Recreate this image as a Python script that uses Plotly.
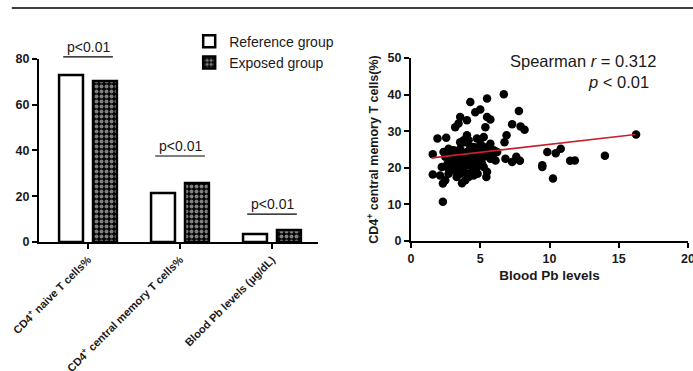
import plotly.graph_objects as go

# ---------------- data ----------------
categories = ["CD4<sup>+</sup> naive T cells%",
              "CD4<sup>+</sup> central memory T cells%",
              "Blood Pb levels (μg/dL)"]
reference_vals = [73.0, 21.4, 3.5]
exposed_vals = [70.4, 25.8, 5.2]
sig_labels = ["p<0.01", "p<0.01", "p<0.01"]
sig_line_y = [80.9, 37.6, 12.2]

pb_x = [2.30, 1.57, 1.57, 1.91, 2.54, 2.10, 2.30, 2.47, 2.35, 2.59, 2.83, 2.64,
        3.19, 3.43, 3.55, 4.04, 4.28, 4.64, 5.00, 5.49, 5.49, 5.73, 5.37, 5.25,
        4.76, 4.04, 3.80, 3.55, 5.73, 6.70, 6.90, 6.75, 7.79, 7.30, 7.91, 8.20,
        6.82, 7.30, 7.60, 7.86, 6.10, 5.97, 5.49, 5.44, 4.81, 4.04, 3.68, 3.30,
        3.07, 9.48, 9.84, 10.45, 10.81, 10.25, 11.49, 11.83, 14.00, 16.25, 9.48,
        2.71, 3.07, 3.31, 3.55, 3.80, 4.04, 4.28, 4.40, 4.64, 4.89, 5.13, 5.25,
        5.49, 5.73, 5.97, 6.22, 2.83, 3.19, 3.43, 3.68, 3.92, 4.16, 4.40, 4.64,
        4.76, 5.13, 2.95, 3.31, 3.80, 4.16, 4.40, 3.92, 3.55, 3.07, 4.76, 4.28,
        3.92, 4.16, 4.52, 5.01, 5.25, 5.61, 2.47, 2.71, 2.22, 2.59, 4.76, 5.25,
        4.52, 3.43, 3.68, 4.04]
cd4_cm = [10.7, 23.7, 18.2, 28.0, 28.2, 17.9, 15.7, 16.6, 24.3, 23.9, 22.0, 21.1,
          31.1, 32.1, 33.9, 33.0, 38.0, 35.2, 35.9, 38.9, 33.9, 33.2, 31.1, 28.4,
          28.0, 28.9, 27.5, 27.0, 26.6, 40.1, 28.9, 27.0, 35.5, 31.9, 31.3, 30.4,
          22.5, 21.6, 23.0, 21.9, 22.0, 23.9, 18.9, 17.5, 18.4, 18.4, 15.8, 17.5,
          19.3, 20.2, 24.3, 24.0, 25.2, 17.1, 21.9, 22.0, 23.3, 29.1, 20.7,
          25.2, 24.8, 23.9, 25.2, 23.4, 24.3, 25.7, 23.0, 24.8, 25.2, 24.3, 23.0,
          23.9, 22.5, 24.8, 24.3, 23.0, 22.0, 21.1, 22.0, 20.7, 21.6, 20.2, 21.1,
          22.0, 21.1, 20.2, 19.8, 19.3, 17.5, 18.9, 16.6, 18.4, 21.1, 23.0, 24.3,
          27.0, 27.5, 25.7, 26.6, 25.7, 25.2, 23.0, 18.4, 20.2, 20.2, 20.2, 20.2,
          17.9, 23.4, 20.2, 23.0]
fit_x = [1.5, 16.2]
fit_y = [22.7, 29.1]

FONT = "Liberation Sans, Arial, sans-serif"
TXT = "#1a1a1a"

fig = go.Figure()

fig.add_trace(go.Bar(
    x=categories, y=reference_vals, name="Reference group",
    width=0.26, offset=-0.315,
    marker=dict(color="white", line=dict(color="black", width=2.5)),
    xaxis="x", yaxis="y"))
fig.add_trace(go.Bar(
    x=categories, y=exposed_vals, name="Exposed group",
    width=0.26, offset=0.054,
    marker=dict(color="black", line=dict(color="black", width=2.5),
                pattern=dict(shape=".", fgcolor="white", bgcolor="black",
                             size=5, solidity=0.5)),
    xaxis="x", yaxis="y"))

fig.add_trace(go.Scatter(
    x=pb_x, y=cd4_cm, mode="markers", showlegend=False,
    marker=dict(color="black", size=8.5),
    xaxis="x2", yaxis="y2"))
fig.add_trace(go.Scatter(
    x=fit_x, y=fit_y, mode="lines", showlegend=False,
    line=dict(color="#c8202a", width=1.6),
    xaxis="x2", yaxis="y2"))

axis_common = dict(showline=True, linecolor="black", linewidth=2,
                   ticks="outside", ticklen=5, tickwidth=2, tickcolor="black",
                   showgrid=False, zeroline=False, automargin=False,
                   ticklabeloverflow="allow")

YMAX = 80
fig.update_layout(
    width=693, height=371,
    margin=dict(l=0, r=0, t=0, b=0, autoexpand=False),
    paper_bgcolor="white", plot_bgcolor="white",
    font=dict(family=FONT, color=TXT),
    barmode="overlay",
    xaxis=dict(domain=[0.0563, 0.4589], range=[-0.533, 2.5],
               tickangle=-45, tickfont=dict(size=11, weight="bold", color=TXT),
               **axis_common),
    yaxis=dict(domain=[0.3477, 0.841], range=[0, YMAX],
               tickvals=[0, 20, 40, 60, 80],
               tickfont=dict(size=12.5, weight="bold", color=TXT),
               **axis_common),
    xaxis2=dict(domain=[0.5931, 0.9928], range=[0, 20],
                tickvals=[0, 5, 10, 15, 20], anchor="y2",
                tickfont=dict(size=12.5, weight="bold", color=TXT),
                title=dict(text="Blood Pb levels", standoff=6,
                           font=dict(size=13.5, weight="bold", color=TXT)),
                **axis_common),
    yaxis2=dict(domain=[0.3504, 0.8437], range=[0, 50], anchor="x2",
                tickvals=[0, 10, 20, 30, 40, 50],
                tickfont=dict(size=12.5, weight="bold", color=TXT),
                title=dict(text="CD4<sup>+</sup> central memory T cells(%)",
                           standoff=6,
                           font=dict(size=12.5, weight="bold", color=TXT)),
                **axis_common),
    legend=dict(x=0.273, y=0.931, xanchor="left", yanchor="top",
                font=dict(size=14, color=TXT), bgcolor="rgba(0,0,0,0)",
                tracegroupgap=4),
)

# top rule
fig.add_shape(type="line", xref="paper", yref="paper",
              x0=0.017, x1=1.0, y0=1 - 8 / 371, y1=1 - 8 / 371,
              line=dict(color="black", width=1.5))

# significance labels and underlines
for i, (lab, ly) in enumerate(zip(sig_labels, sig_line_y)):
    fig.add_shape(type="line", xref="x", yref="y domain",
                  x0=i - 0.27, x1=i + 0.27, y0=ly / YMAX, y1=ly / YMAX,
                  line=dict(color="black", width=1.2))
    fig.add_annotation(x=i, y=ly / YMAX, xref="x", yref="y domain",
                       text=lab, showarrow=False, yanchor="bottom", yshift=0,
                       font=dict(size=14, color=TXT))

fig.add_annotation(x=17.8, y=49.2, xref="x2", yref="y2",
                   text="Spearman <i>r</i> = 0.312", showarrow=False,
                   xanchor="right", font=dict(size=16.5, color=TXT))
fig.add_annotation(x=17.3, y=43.4, xref="x2", yref="y2",
                   text="<i>p</i> < 0.01", showarrow=False,
                   xanchor="right", font=dict(size=16.5, color=TXT))

fig.write_html("out.html", config={"displayModeBar": False},
               post_script="document.body.style.margin='0px';")
